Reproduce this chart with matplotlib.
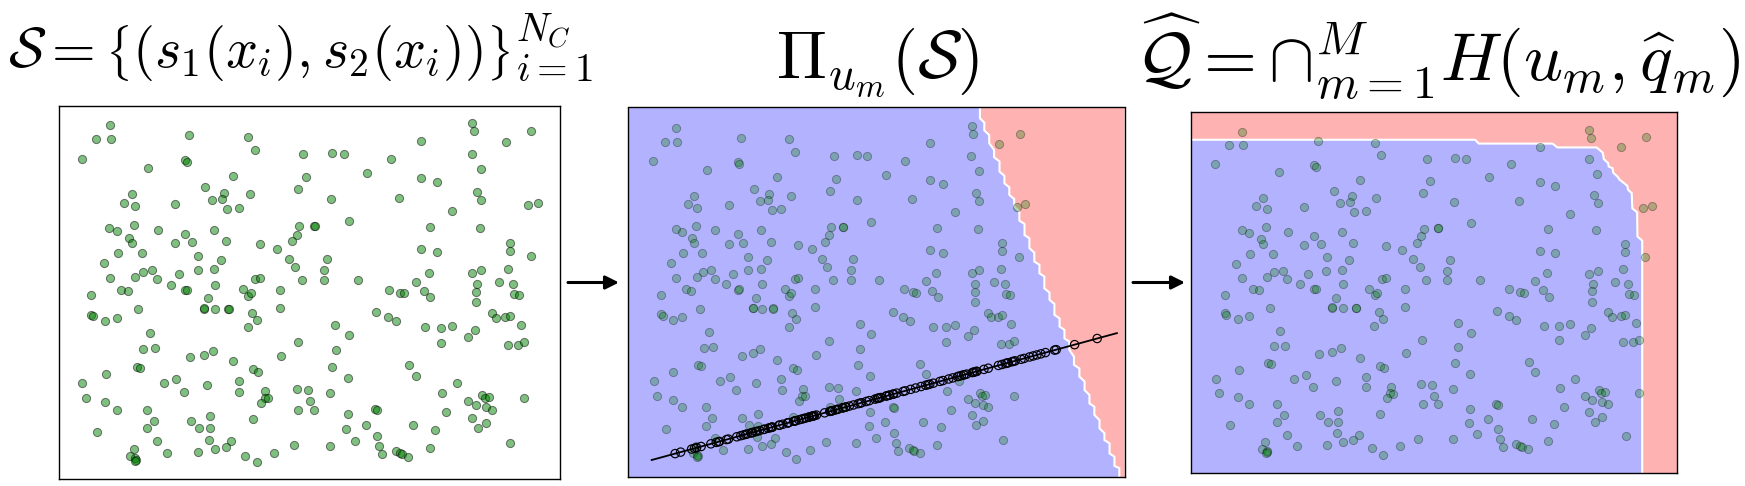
#!/usr/bin/env python3
"""Scores, their projection on a direction, and the resulting intersected region."""

import matplotlib
matplotlib.use('Agg')
import matplotlib.pyplot as plt
from matplotlib.patches import FancyArrowPatch
import numpy as np

plt.rcParams['mathtext.fontset'] = 'cm'

W, H = 1745, 486

# Score pairs (s1, s2), one list per quadrant
scores_top_left = [
    (153, 1062), (110, 1020), (155, 1020), (68, 962), (391, 1033), (568, 1028), (588, 989), (733, 977),
    (378, 957), (383, 953), (267, 935), (522, 911), (740, 907), (439, 877), (718, 870), (495, 860),
    (219, 855), (573, 855), (490, 841), (459, 839), (195, 829), (347, 826), (229, 819), (503, 812),
    (539, 814), (226, 763), (151, 754), (173, 744), (296, 749), (466, 749), (721, 759), (766, 761),
    (767, 761), (378, 737), (713, 734), (211, 725), (219, 710), (347, 708), (398, 712), (500, 715),
    (699, 715), (602, 705), (653, 691), (248, 679), (178, 679), (418, 669), (689, 662), (486, 659),
    (134, 649), (709, 638), (280, 627), (251, 623), (416, 627), (466, 630), (360, 616), (153, 603),
    (229, 606), (294, 600), (589, 601), (602, 603), (728, 598), (335, 584), (468, 584),
]
scores_top_right = [
    (1240, 1069), (1245, 1044), (1417, 1045), (1087, 1015), (1340, 1013), (818, 979), (854, 977),
    (1238, 977), (995, 962), (1265, 931), (925, 919), (1087, 904), (1133, 892), (1255, 863), (816, 841),
    (1019, 844), (1267, 838), (1407, 822), (1437, 829), (1180, 805), (869, 775), (1112, 756), (1262, 754),
    (1352, 710), (1087, 690), (1352, 685), (1133, 681), (1415, 669), (804, 661), (1347, 632), (794, 627),
    (1267, 627), (1109, 620), (1240, 618), (794, 598), (898, 598), (1071, 593), (1321, 591), (1253, 586),
    (1361, 586),
]
scores_bottom_left = [
    (187, 569), (206, 565), (378, 568), (384, 569), (551, 571), (663, 569), (97, 552), (568, 550),
    (575, 557), (447, 542), (238, 509), (434, 511), (434, 512), (469, 509), (508, 511), (510, 509),
    (663, 514), (97, 493), (102, 488), (139, 475), (175, 484), (580, 497), (593, 477), (566, 455),
    (272, 438), (716, 411), (253, 390), (287, 392), (461, 385), (434, 373), (394, 366), (665, 368),
    (522, 353), (234, 337), (243, 334), (583, 329), (598, 321), (141, 315), (352, 300), (539, 295),
    (70, 288), (314, 288), (445, 281), (374, 261), (541, 261), (619, 263), (713, 271), (748, 268),
    (80, 244), (617, 244), (626, 242), (753, 233), (139, 230), (605, 228), (175, 208), (263, 208),
    (718, 208), (765, 208), (452, 188), (583, 179), (284, 174), (396, 174), (420, 154), (263, 152),
    (452, 152), (114, 142), (294, 113), (449, 118), (517, 113), (500, 96), (469, 89), (704, 101),
    (224, 91), (418, 82), (323, 79), (646, 77), (214, 69), (558, 70), (229, 62), (231, 58), (228, 55),
    (593, 50),
]
scores_bottom_right = [
    (990, 569), (1024, 560), (1036, 557), (1095, 565), (1114, 545), (1250, 562), (1250, 530), (1365, 555),
    (1381, 552), (951, 501), (988, 485), (1012, 473), (1300, 497), (1311, 483), (1338, 485), (1352, 489),
    (828, 463), (869, 433), (1099, 455), (1145, 453), (1180, 460), (1247, 446), (1226, 426), (1385, 463),
    (1145, 409), (1347, 402), (1376, 402), (1396, 411), (830, 387), (820, 337), (1050, 341), (866, 303),
    (1071, 310), (1194, 288), (813, 257), (1148, 259), (1270, 252), (1278, 244), (1289, 247), (1226, 235),
    (1395, 244), (1250, 221), (1280, 215), (1300, 208), (866, 194), (949, 210), (953, 206), (1162, 201),
    (1240, 184), (1280, 167), (1257, 154), (922, 162), (862, 150), (954, 130), (1061, 162), (1128, 148),
    (888, 114), (813, 99), (961, 99), (970, 75), (1010, 85), (1023, 77), (1029, 74), (1048, 67),
    (1112, 94), (1354, 108),
]

# Step boundary of the second panel
boundary_mid = [
    (1270, 1126), (1270, 1092), (1286, 1079), (1286, 1055), (1304, 1041), (1304, 1016), (1322, 995),
    (1322, 973), (1342, 960), (1342, 929), (1360, 916), (1360, 893), (1378, 881), (1378, 858), (1396, 845),
    (1396, 822), (1415, 807), (1415, 779), (1434, 769), (1434, 735), (1452, 725), (1452, 695), (1470, 681),
    (1470, 654), (1489, 644), (1489, 618), (1507, 608), (1507, 572), (1526, 559), (1526, 537), (1544, 524),
    (1544, 491), (1563, 480), (1563, 455), (1581, 445), (1581, 419), (1599, 409), (1599, 384), (1616, 363),
    (1616, 338), (1636, 327), (1636, 302), (1655, 287), (1655, 261), (1673, 246), (1673, 220), (1691, 210),
    (1691, 185), (1710, 169), (1710, 144), (1728, 129), (1728, 108), (1747, 98), (1747, 67), (1765, 57),
    (1765, 29), (1783, 22), (1783, -6),
]

# Boundary of the intersected region in the third panel
boundary_right = [
    (-8, 1037), (882, 1037), (894, 1025), (1125, 1025), (1140, 1013), (1263, 1013), (1282, 997), (1286, 976),
    (1299, 964), (1301, 953), (1313, 948), (1315, 934), (1330, 920), (1334, 913), (1359, 893), (1362, 880),
    (1373, 870), (1375, 822), (1390, 810), (1391, 734), (1406, 721), (1406, -7),
]

# Projection line and the slant along which points fall on it
line_x = [62, 1774]
line_y = [47, 435]
slant = [513, -1130]

titles = [
    r'$\mathcal{S}=\left\{\left(s_1(x_i),s_2(x_i)\right)\right\}_{i=1}^{N_C}$',
    r'$\Pi_{u_m}(\mathcal{S})$',
    r'$\widehat{\mathcal{Q}}={\cap}_{m=1}^{M}H(u_m,\widehat{q}_m)$',
]

scores = np.array(scores_top_left + scores_top_right + scores_bottom_left + scores_bottom_right, dtype=float)


def make_axes(fig, left, top, right, bottom):
    ax = fig.add_axes([left / W, 1 - bottom / H, (right - left) / W, (bottom - top) / H])
    ax.set_xticks([])
    ax.set_yticks([])
    for spine in ax.spines.values():
        spine.set_linewidth(1.0)
        spine.set_zorder(6)
    return ax


def draw_points(ax, alpha):
    ax.scatter(scores[:, 0], scores[:, 1], s=35, c='green', edgecolors='k', linewidths=0.7, alpha=alpha, zorder=3)


def draw_regions(ax, boundary, blue_corners, red_corners):
    blue = np.array(boundary + blue_corners)
    red = np.array(boundary + red_corners)
    edge = np.array(boundary)
    ax.fill(blue[:, 0], blue[:, 1], color='blue', alpha=0.3, lw=0, zorder=1)
    ax.fill(red[:, 0], red[:, 1], color='red', alpha=0.3, lw=0, zorder=1)
    ax.plot(edge[:, 0], edge[:, 1], color='white', lw=1.5, solid_joinstyle='miter', zorder=2)


fig = plt.figure(figsize=(W / 100, H / 100), dpi=100)

# Left panel
ax1 = make_axes(fig, 59, 106, 560, 479)
draw_points(ax1, 0.5)
ax1.set_xlim(0, 1503)
ax1.set_ylim(0, 1120)

# Middle panel: half-plane and the projection
x0, x1, y0, y1 = -27, 1802, -5, 1125
ax2 = make_axes(fig, 627.5, 107.5, 1124.5, 477)
draw_regions(ax2, boundary_mid, [(x0, y0), (x0, y1)], [(x1, y0), (x1, y1)])
draw_points(ax2, 0.3)
a = np.array([line_x[0], line_y[0]], dtype=float)
u = np.array([line_x[1] - line_x[0], line_y[1] - line_y[0]], dtype=float)
n = np.array([-slant[1], slant[0]], dtype=float)
t = (scores - a) @ n / (u @ n)
# the rings are sparser than the points, so only every second one is kept
t = np.sort(t)[::-2]
proj = a + np.outer(t, u)
ax2.plot(line_x, line_y, color='k', lw=1.3, zorder=4)
ax2.scatter(proj[:, 0], proj[:, 1], s=36, facecolors='none', edgecolors='k', linewidths=0.85, zorder=5)
ax2.set_xlim(x0, x1)
ax2.set_ylim(y0, y1)

# Right panel: intersection of half-planes
x0, x1, y0, y1 = -8, 1515, -7, 1124
ax3 = make_axes(fig, 1191, 112, 1677, 473)
draw_regions(ax3, boundary_right, [(x0, y0)], [(x1, y0), (x1, y1), (x0, y1)])
draw_points(ax3, 0.3)
ax3.set_xlim(x0, x1)
ax3.set_ylim(y0, y1)

# Titles
fig.text(300 / W, 1 - 67 / H, titles[0], fontsize=40.5, ha='center', va='baseline')
fig.text(878 / W, 1 - 78 / H, titles[1], fontsize=48, ha='center', va='baseline')
fig.text(1438 / W, 1 - 82 / H, titles[2], fontsize=49, ha='center', va='baseline')

# Arrows between panels
for start, end in [(568, 619), (1133, 1185)]:
    fig.add_artist(FancyArrowPatch(
        (start / W, 1 - 282.5 / H), (end / W, 1 - 282.5 / H), transform=fig.transFigure,
        arrowstyle='-|>', mutation_scale=20, color='k', lw=2.2, shrinkA=0, shrinkB=0))

fig.savefig('out.png', dpi=100)
